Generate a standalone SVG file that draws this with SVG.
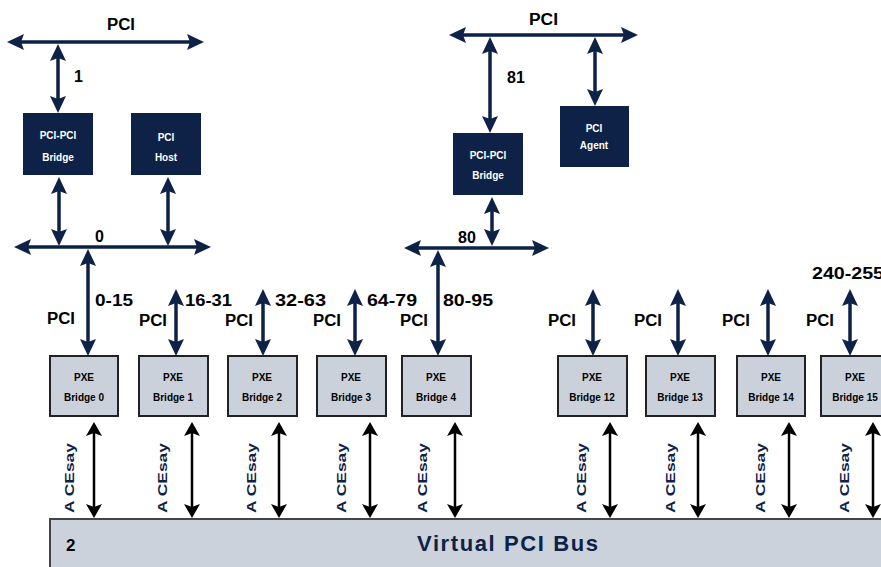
<svg xmlns="http://www.w3.org/2000/svg" width="881" height="567" viewBox="0 0 881 567">
<style>
.lbl{font-family:"Liberation Sans",Arial,sans-serif;font-weight:bold;font-size:16px;fill:#000}
.dk{fill:#0d2246}
.dkt{font-family:"Liberation Sans",Arial,sans-serif;font-size:10px;font-weight:bold;fill:#fff;text-anchor:middle}
.bx{fill:#cbd1db;stroke:#222;stroke-width:2}
.bxt{font-family:"Liberation Sans",Arial,sans-serif;font-weight:bold;font-size:10px;fill:#000;text-anchor:middle}
.vt{font-family:"Liberation Sans",Arial,sans-serif;font-weight:bold;font-size:13px;fill:#0d2246;text-anchor:middle}
.na{stroke:#0d2246;stroke-width:3.5;fill:none;marker-start:url(#an);marker-end:url(#an)}
.ba{stroke:#000;stroke-width:2.5;fill:none;marker-start:url(#ab);marker-end:url(#ab)}
</style>
<defs>
<marker id="an" viewBox="0 0 17 16" refX="12" refY="8" markerWidth="17" markerHeight="16" orient="auto-start-reverse" markerUnits="userSpaceOnUse"><path d="M0,0 L17,8 L0,16 L3,8 z" fill="#0d2246"/></marker>
<marker id="ab" viewBox="0 0 14 16" refX="11" refY="8" markerWidth="14" markerHeight="16" orient="auto-start-reverse" markerUnits="userSpaceOnUse"><path d="M0,0 L14,8 L0,16 L3,8 z" fill="#000"/></marker>
</defs>
<rect width="881" height="567" fill="#fff"/>

<g id="connectors">
<line class="na" x1="12" y1="42" x2="199" y2="42"/>
<line class="na" x1="58" y1="49" x2="58" y2="108"/>
<line class="na" x1="59" y1="182" x2="59" y2="241"/>
<line class="na" x1="168" y1="182" x2="168" y2="241"/>
<line class="na" x1="19" y1="247" x2="206" y2="247"/>
<line class="na" x1="88" y1="254" x2="88" y2="351"/>
<line class="na" x1="454" y1="35" x2="633" y2="35"/>
<line class="na" x1="490" y1="42" x2="490" y2="128"/>
<line class="na" x1="595" y1="42" x2="595" y2="101"/>
<line class="na" x1="492" y1="202" x2="492" y2="241"/>
<line class="na" x1="409" y1="248" x2="544" y2="248"/>
<line class="na" x1="438" y1="255" x2="438" y2="351"/>
<line class="na" x1="176" y1="294" x2="176" y2="351"/>
<line class="na" x1="263" y1="294" x2="263" y2="351"/>
<line class="na" x1="355" y1="294" x2="355" y2="351"/>
<line class="na" x1="593" y1="294" x2="593" y2="351"/>
<line class="na" x1="678" y1="294" x2="678" y2="351"/>
<line class="na" x1="768" y1="294" x2="768" y2="351"/>
<line class="na" x1="850" y1="294" x2="850" y2="351"/>
<line class="ba" x1="94" y1="425" x2="94" y2="515"/>
<line class="ba" x1="192" y1="425" x2="192" y2="515"/>
<line class="ba" x1="279" y1="425" x2="279" y2="515"/>
<line class="ba" x1="370" y1="425" x2="370" y2="515"/>
<line class="ba" x1="455" y1="425" x2="455" y2="515"/>
<line class="ba" x1="610" y1="425" x2="610" y2="515"/>
<line class="ba" x1="698" y1="425" x2="698" y2="515"/>
<line class="ba" x1="789" y1="425" x2="789" y2="515"/>
<line class="ba" x1="873" y1="425" x2="873" y2="515"/>
</g>

<g id="labels">
<text class="lbl" x="107" y="30" textLength="28" lengthAdjust="spacingAndGlyphs">PCI</text>
<text class="lbl" x="74" y="82">1</text>
<text class="lbl" x="95" y="242">0</text>
<text class="lbl" x="529" y="25" textLength="29" lengthAdjust="spacingAndGlyphs">PCI</text>
<text class="lbl" x="507" y="83">81</text>
<text class="lbl" x="458" y="243">80</text>
<text class="lbl" x="47" y="324" textLength="28" lengthAdjust="spacingAndGlyphs">PCI</text>
<text class="lbl" x="139" y="326" textLength="28" lengthAdjust="spacingAndGlyphs">PCI</text>
<text class="lbl" x="225" y="326" textLength="28" lengthAdjust="spacingAndGlyphs">PCI</text>
<text class="lbl" x="313" y="326" textLength="28" lengthAdjust="spacingAndGlyphs">PCI</text>
<text class="lbl" x="400" y="326" textLength="28" lengthAdjust="spacingAndGlyphs">PCI</text>
<text class="lbl" x="548" y="326" textLength="28" lengthAdjust="spacingAndGlyphs">PCI</text>
<text class="lbl" x="634" y="326" textLength="28" lengthAdjust="spacingAndGlyphs">PCI</text>
<text class="lbl" x="722" y="326" textLength="28" lengthAdjust="spacingAndGlyphs">PCI</text>
<text class="lbl" x="806" y="326" textLength="28" lengthAdjust="spacingAndGlyphs">PCI</text>
<text class="lbl" x="95" y="306" textLength="38" lengthAdjust="spacingAndGlyphs">0-15</text>
<text class="lbl" x="185" y="306" textLength="47" lengthAdjust="spacingAndGlyphs">16-31</text>
<text class="lbl" x="275" y="306" textLength="51" lengthAdjust="spacingAndGlyphs">32-63</text>
<text class="lbl" x="367" y="306" textLength="50" lengthAdjust="spacingAndGlyphs">64-79</text>
<text class="lbl" x="443" y="306" textLength="50" lengthAdjust="spacingAndGlyphs">80-95</text>
<text class="lbl" x="812" y="279" textLength="72" lengthAdjust="spacingAndGlyphs">240-255</text>
</g>

<g id="pci-pci-bridge-1">
<rect class="dk" x="23" y="113" width="70" height="62"/>
<text class="dkt" x="58" y="139">PCI-PCI</text>
<text class="dkt" x="58" y="161">Bridge</text>
</g>
<g id="pci-host">
<rect class="dk" x="131" y="113" width="70" height="62"/>
<text class="dkt" x="166" y="141">PCI</text>
<text class="dkt" x="166" y="161">Host</text>
</g>
<g id="pci-pci-bridge-2">
<rect class="dk" x="453" y="133" width="70" height="62"/>
<text class="dkt" x="488" y="159">PCI-PCI</text>
<text class="dkt" x="488" y="179">Bridge</text>
</g>
<g id="pci-agent">
<rect class="dk" x="560" y="106" width="69" height="61"/>
<text class="dkt" x="594" y="132">PCI</text>
<text class="dkt" x="594" y="149">Agent</text>
</g>

<g id="pxe-bridge-0"><rect class="bx" x="50" y="356" width="68" height="60"/><text class="bxt" x="84" y="381">PXE</text><text class="bxt" x="84" y="401">Bridge 0</text></g>
<g id="pxe-bridge-1"><rect class="bx" x="139" y="356" width="69" height="60"/><text class="bxt" x="173" y="381">PXE</text><text class="bxt" x="173" y="401">Bridge 1</text></g>
<g id="pxe-bridge-2"><rect class="bx" x="228" y="356" width="69" height="60"/><text class="bxt" x="262" y="381">PXE</text><text class="bxt" x="262" y="401">Bridge 2</text></g>
<g id="pxe-bridge-3"><rect class="bx" x="317" y="356" width="69" height="60"/><text class="bxt" x="351" y="381">PXE</text><text class="bxt" x="351" y="401">Bridge 3</text></g>
<g id="pxe-bridge-4"><rect class="bx" x="402" y="356" width="69" height="60"/><text class="bxt" x="436" y="381">PXE</text><text class="bxt" x="436" y="401">Bridge 4</text></g>
<g id="pxe-bridge-12"><rect class="bx" x="558" y="356" width="69" height="60"/><text class="bxt" x="592" y="381">PXE</text><text class="bxt" x="592" y="401">Bridge 12</text></g>
<g id="pxe-bridge-13"><rect class="bx" x="646" y="356" width="69" height="60"/><text class="bxt" x="680" y="381">PXE</text><text class="bxt" x="680" y="401">Bridge 13</text></g>
<g id="pxe-bridge-14"><rect class="bx" x="737" y="356" width="68" height="60"/><text class="bxt" x="771" y="381">PXE</text><text class="bxt" x="771" y="401">Bridge 14</text></g>
<g id="pxe-bridge-15"><rect class="bx" x="821" y="356" width="69" height="60"/><text class="bxt" x="855" y="381">PXE</text><text class="bxt" x="855" y="401">Bridge 15</text></g>

<g id="vertical-labels">
<text class="vt" transform="translate(74,478) rotate(-90)" textLength="70" lengthAdjust="spacingAndGlyphs">A CEsay</text>
<text class="vt" transform="translate(167,478) rotate(-90)" textLength="70" lengthAdjust="spacingAndGlyphs">A CEsay</text>
<text class="vt" transform="translate(256,478) rotate(-90)" textLength="70" lengthAdjust="spacingAndGlyphs">A CEsay</text>
<text class="vt" transform="translate(346,478) rotate(-90)" textLength="70" lengthAdjust="spacingAndGlyphs">A CEsay</text>
<text class="vt" transform="translate(427,478) rotate(-90)" textLength="70" lengthAdjust="spacingAndGlyphs">A CEsay</text>
<text class="vt" transform="translate(586,478) rotate(-90)" textLength="70" lengthAdjust="spacingAndGlyphs">A CEsay</text>
<text class="vt" transform="translate(675,478) rotate(-90)" textLength="70" lengthAdjust="spacingAndGlyphs">A CEsay</text>
<text class="vt" transform="translate(765,478) rotate(-90)" textLength="70" lengthAdjust="spacingAndGlyphs">A CEsay</text>
<text class="vt" transform="translate(849,478) rotate(-90)" textLength="70" lengthAdjust="spacingAndGlyphs">A CEsay</text>
</g>

<g id="virtual-pci-bus">
<rect x="50" y="519" width="840" height="60" fill="#cbd2dc" stroke="#444" stroke-width="2"/>
<text x="66" y="551" font-family="Liberation Sans,Arial,sans-serif" font-weight="bold" font-size="17" fill="#000">2</text>
<text x="417" y="551" font-family="Liberation Sans,Arial,sans-serif" font-weight="bold" font-size="22" fill="#0d2246" textLength="181" lengthAdjust="spacing">Virtual PCI Bus</text>
</g>
</svg>
